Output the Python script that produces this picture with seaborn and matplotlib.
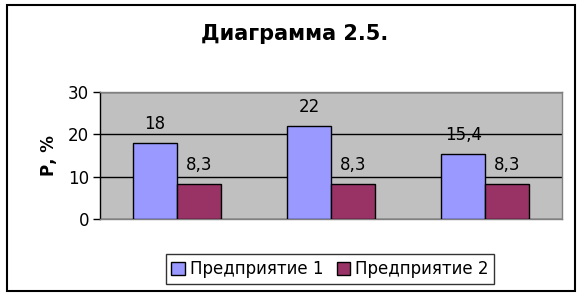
import matplotlib
matplotlib.use("Agg")
import matplotlib.pyplot as plt
import seaborn as sns
import pandas as pd
from matplotlib.patches import Rectangle

categories = ["1", "2", "3"]
series_names = ["Предприятие 1", "Предприятие 2"]
values_1 = [18, 22, 15.4]
values_2 = [8.3, 8.3, 8.3]
label_1 = ["18", "22", "15,4"]
label_2 = ["8,3", "8,3", "8,3"]
yticks = [0, 10, 20, 30]

sns.set_style("white")
plt.rcParams['font.family'] = ['DejaVu Sans']
plt.rcParams['text.color'] = 'black'
plt.rcParams['axes.labelcolor'] = 'black'
plt.rcParams['ytick.color'] = 'black'
plt.rcParams['xtick.color'] = 'black'

df = pd.DataFrame({
    "cat": categories * 2,
    "series": [series_names[0]] * 3 + [series_names[1]] * 3,
    "val": values_1 + values_2,
})

fig = plt.figure(figsize=(5.85, 2.99), dpi=100)
fig.patch.set_facecolor("white")
ax = fig.add_axes([0.171, 0.268, 0.790, 0.424])
ax.set_facecolor("#C0C0C0")

sns.barplot(data=df, x="cat", y="val", hue="series",
            palette=["#9999FF", "#993366"], width=0.57,
            edgecolor="black", linewidth=1.0, ax=ax, legend=True,
            saturation=1, zorder=3)

ax.set_ylim(0, 30)
ax.set_yticks(yticks)
ax.yaxis.grid(True, color="black", linewidth=1.0, zorder=0)
ax.set_axisbelow(True)
ax.tick_params(axis="y", which="both", left=True, length=5, width=1, labelsize=12, pad=3,
               color="black", labelcolor="black")
ax.tick_params(axis="x", bottom=False, labelbottom=False)
ax.set_xlabel("")
ax.set_ylabel("Р, %", fontsize=12, fontweight="bold", labelpad=7, color="black")
for s in ["top", "right", "bottom"]:
    ax.spines[s].set_color("#808080")
    ax.spines[s].set_linewidth(1)
ax.spines["left"].set_color("black")
ax.spines["left"].set_linewidth(1)

for cont, labs in zip(ax.containers, [label_1, label_2]):
    ax.bar_label(cont, labels=labs, padding=7, fontsize=12, color="black")

handles, labels = ax.get_legend_handles_labels()
if ax.legend_:
    ax.legend_.remove()
leg = fig.legend(handles, labels, loc="center", bbox_to_anchor=(0.564, 0.10), ncol=2,
                 fontsize=12, frameon=True, fancybox=False, edgecolor="black",
                 handlelength=0.8, handleheight=0.8, handletextpad=0.3, columnspacing=0.8,
                 borderpad=0.35, labelcolor="black")
leg.get_frame().set_linewidth(1.0)

fig.text(0.504, 0.885, "Диаграмма 2.5.", ha="center", va="center", fontsize=15,
         fontweight="bold", color="black")

fig.add_artist(Rectangle((0.012, 0.027), 0.971, 0.955, transform=fig.transFigure,
                         fill=False, edgecolor="black", linewidth=1.5))

fig.savefig("out.png", dpi=100, facecolor="white")
